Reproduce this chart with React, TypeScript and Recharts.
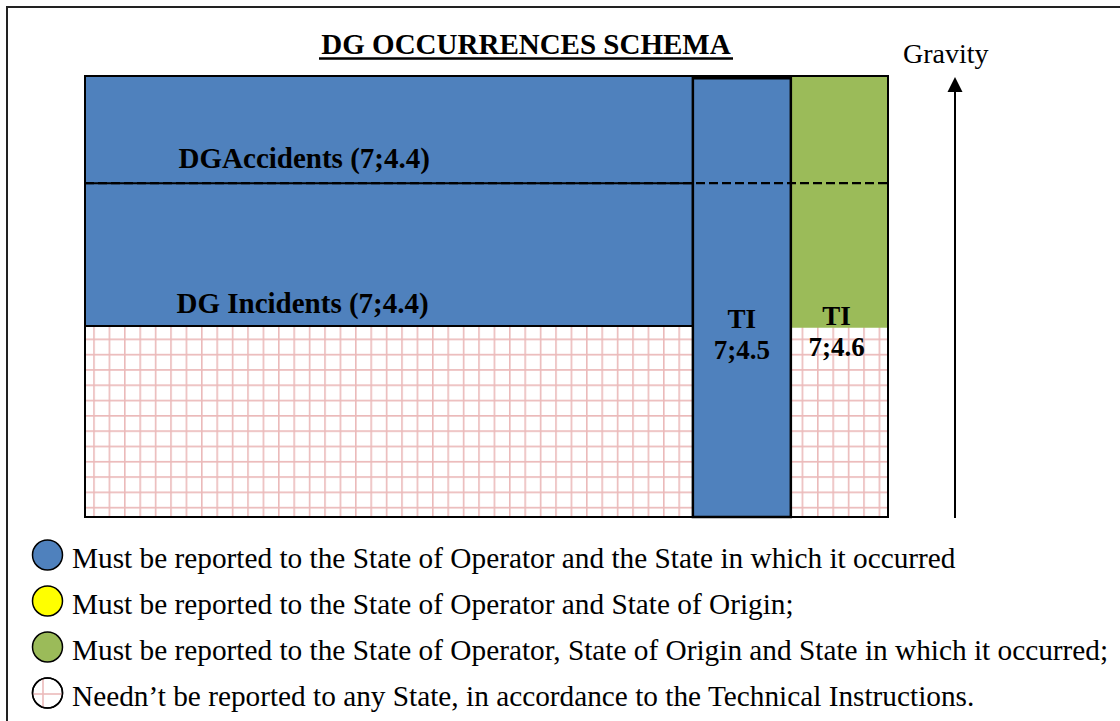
import React from 'react';
import { ComposedChart, XAxis, YAxis, ReferenceArea, ReferenceLine, Scatter } from 'recharts';

const BLUE = '#4F81BD';
const GREEN = '#9BBB59';
const YELLOW = '#FFFF00';
const PINK = '#EBBABA';
const FONT = "'Liberation Serif', 'Times New Roman', serif";

// horizontal extent of each column, in % of the schema width
const columnNames = ['DG', 'TI 7;4.5', 'TI 7;4.6'];
const columnFrom = [0, 75.7, 87.9];
const columnTo = [75.7, 87.9, 100];

// gravity levels (0 = bottom of the schema, 100 = top)
const incidentLevel = 43.3;
const accidentLevel = 75.7;
const ti46Level = 42.9;
const ti45Top = 99.5;

const labelTexts = ['DGAccidents (7;4.4)', 'DG Incidents (7;4.4)', 'TI', '7;4.5', 'TI', '7;4.6'];
const labelX = [27.3, 27.1, 81.8, 81.8, 93.6, 93.6];
const labelY = [79.1, 46.3, 42.9, 35.8, 43.5, 36.4];

const legendTexts = [
  'Must be reported to the State of Operator and the State in which it occurred',
  'Must be reported to the State of Operator and State of Origin;',
  'Must be reported to the State of Operator, State of Origin and State in which it occurred;',
  'Needn\u2019t be reported to any State, in accordance to the Technical Instructions.'
];
const legendFills = [BLUE, YELLOW, GREEN, 'none'];

const labelRows = labelTexts.map((text, i) => ({ x: labelX[i], y: labelY[i], text, big: i < 2 }));

const Label = (p: any) => (
  <text
    x={p.cx}
    y={p.cy}
    textAnchor="middle"
    fontFamily={FONT}
    fontWeight="bold"
    fontSize={p.payload.big ? 29 : 27}
    fill="#000"
  >
    {p.payload.text}
  </text>
);

const Overlay = () => (
  <svg
    width={1120}
    height={721}
    style={{ position: 'absolute', left: 0, top: 0, pointerEvents: 'none' }}
    fontFamily={FONT}
  >
    <rect x={7} y={7} width={1125} height={725} fill="none" stroke="#222" strokeWidth={2} />
    <text x={526} y={54} textAnchor="middle" fontSize={29} fontWeight="bold">
      DG OCCURRENCES SCHEMA
    </text>
    <line x1={319} x2={733} y1={58.5} y2={58.5} stroke="#000" strokeWidth={2.5} />
    <text x={903} y={63} fontSize={28}>Gravity</text>
    <line x1={955} x2={955} y1={518} y2={90} stroke="#000" strokeWidth={2} />
    <polygon points="947.5,92 962.5,92 955,77" fill="#000" />
    {legendTexts.map((t, i) => {
      const cy = 555 + i * 46;
      return (
        <g key={i}>
          <circle cx={47.5} cy={cy} r={15} fill={legendFills[i] === 'none' ? '#fff' : legendFills[i]} stroke="#000" strokeWidth={1.5} />
          {legendFills[i] === 'none' && (
            <g stroke={PINK} strokeWidth={1.6}>
              <line x1={43} x2={43} y1={cy - 14} y2={cy + 14} />
              <line x1={33} x2={62} y1={cy + 1} y2={cy + 1} />
            </g>
          )}
          {legendFills[i] === 'none' && (
            <circle cx={47.5} cy={cy} r={15} fill="none" stroke="#000" strokeWidth={1.5} />
          )}
          <text x={72} y={cy + 12.5} fontSize={29.3} fill="#000">{t}</text>
        </g>
      );
    })}
  </svg>
);

export default function App() {
  return (
    <div style={{ position: 'absolute', left: 0, top: 0, width: 1120, height: 721, background: '#fff' }}>
      <ComposedChart width={1120} height={721} margin={{ top: 76, right: 232, bottom: 204, left: 85 }}>
        <defs>
          <pattern id="pinkGrid" patternUnits="userSpaceOnUse" x={93.2} y={338.5} width={15.4} height={15.3}>
            <rect width={15.4} height={15.3} fill="#fff" />
            <path d="M0.8 0 V15.3 M0 0.8 H15.4" stroke={PINK} strokeWidth={1.6} />
          </pattern>
        </defs>
        <XAxis type="number" dataKey="x" domain={[0, 100]} hide />
        <YAxis type="number" dataKey="y" domain={[0, 100]} hide />
        <ReferenceArea x1={0} x2={100} y1={0} y2={100} fill="url(#pinkGrid)" fillOpacity={1} />
        {/* DG accidents */}
        <ReferenceArea x1={columnFrom[0]} x2={columnTo[0]} y1={accidentLevel} y2={100} fill={BLUE} fillOpacity={1} />
        {/* DG incidents */}
        <ReferenceArea
          x1={columnFrom[0]}
          x2={columnTo[0]}
          y1={incidentLevel}
          y2={accidentLevel}
          fill={BLUE}
          fillOpacity={1}
          stroke="#000"
          strokeWidth={2}
        />
        {/* TI 7;4.6 */}
        <ReferenceArea x1={columnFrom[2]} x2={columnTo[2]} y1={ti46Level} y2={100} fill={GREEN} fillOpacity={1} />
        {/* TI 7;4.5 */}
        <ReferenceArea
          x1={columnFrom[1]}
          x2={columnTo[1]}
          y1={0}
          y2={ti45Top}
          fill={BLUE}
          fillOpacity={1}
          stroke="#000"
          strokeWidth={2.5}
        />
        <ReferenceArea x1={0} x2={100} y1={0} y2={100} fill="none" stroke="#000" strokeWidth={2} />
        <ReferenceLine y={accidentLevel} stroke="#000" strokeWidth={2.2} strokeDasharray="9 4" />
        <Scatter name={columnNames.join(' / ')} data={labelRows} shape={Label} isAnimationActive={false} />
      </ComposedChart>
      <Overlay />
    </div>
  );
}
